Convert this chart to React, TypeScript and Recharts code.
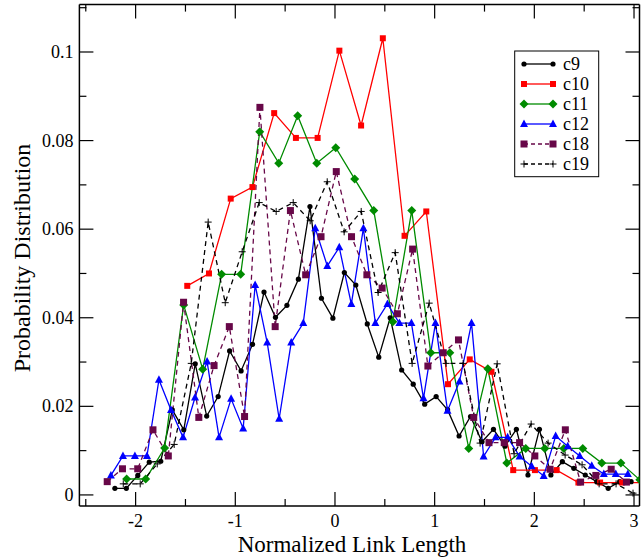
import React from "react";
import { LineChart, Line, XAxis, YAxis } from "recharts";

// c9: black circles, solid
const C9_X = [
  -2.208, -2.093, -1.978, -1.863, -1.748, -1.632, -1.517, -1.402, -1.287, -1.172,
  -1.057, -0.942, -0.827, -0.712, -0.597, -0.482, -0.367, -0.251, -0.136, -0.021,
  0.094, 0.209, 0.324, 0.439, 0.554, 0.669, 0.785, 0.9, 1.015, 1.13,
  1.245, 1.36, 1.475, 1.59, 1.705, 1.82, 1.936, 2.051, 2.166, 2.281,
  2.396, 2.511, 2.626, 2.741, 2.856, 2.971,
];
const C9_Y = [
  0.0015, 0.0015, 0.0044, 0.0074, 0.0076, 0.0192, 0.0147, 0.0296, 0.0178, 0.0222,
  0.0325, 0.028, 0.034, 0.0458, 0.0401, 0.0428, 0.0487, 0.0651, 0.0444, 0.0399,
  0.0502, 0.0474, 0.0386, 0.0311, 0.04, 0.0282, 0.025, 0.0205, 0.0222, 0.0192,
  0.0133, 0.0177, 0.012, 0.0148, 0.011, 0.0148, 0.0045, 0.0148, 0.0045, 0.0075,
  0.006, 0.0045, 0.003, 0.0015, 0.003, 0.003,
];

// c10: red squares, solid
const C10_X = [
  -1.482, -1.264, -1.046, -0.828, -0.61, -0.392, -0.174, 0.044, 0.262, 0.48,
  0.698, 0.916, 1.134, 1.352, 1.57, 1.788, 2.006, 2.224, 2.442, 2.66,
  2.878, 3.096,
];
const C10_Y = [
  0.0472, 0.05, 0.0669, 0.0695, 0.0862, 0.0806, 0.0806, 0.1003, 0.0834, 0.1031,
  0.0585, 0.064, 0.025, 0.0306, 0.0278, 0.0056, 0.0056, 0.0056, 0.0028, 0.0028,
  0.0028, 0.0028,
];

// c11: green diamonds, solid
const C11_X = [
  -2.09, -1.899, -1.709, -1.518, -1.327, -1.137, -0.946, -0.755, -0.564, -0.374,
  -0.183, 0.008, 0.198, 0.389, 0.58, 0.77, 0.961, 1.152, 1.342, 1.533,
  1.724, 1.914, 2.105, 2.296, 2.486, 2.677, 2.868, 3.058,
];
const C11_Y = [
  0.0036, 0.0036, 0.0106, 0.0429, 0.0284, 0.0498, 0.0498, 0.082, 0.0749, 0.0856,
  0.0749, 0.0784, 0.0713, 0.0642, 0.0391, 0.0642, 0.0321, 0.0321, 0.0105, 0.0285,
  0.0072, 0.0105, 0.0105, 0.0105, 0.0105, 0.0072, 0.0072, 0.0034,
];

// c12: blue triangles, solid
const C12_X = [
  -2.248, -2.127, -2.007, -1.886, -1.766, -1.645, -1.524, -1.404, -1.283, -1.163,
  -1.042, -0.921, -0.801, -0.68, -0.56, -0.439, -0.318, -0.198, -0.077, 0.043,
  0.164, 0.285, 0.405, 0.526, 0.646, 0.767, 0.888, 1.008, 1.129, 1.249,
  1.37, 1.491, 1.611, 1.732, 1.852, 1.973, 2.094, 2.214, 2.335, 2.455,
  2.576, 2.697, 2.817, 2.938,
];
const C12_Y = [
  0.0044, 0.0088, 0.0088, 0.0088, 0.026, 0.0192, 0.013, 0.022, 0.0301, 0.013,
  0.0217, 0.015, 0.0474, 0.0344, 0.0172, 0.0344, 0.0388, 0.0602, 0.0517, 0.0559,
  0.0431, 0.0602, 0.0388, 0.0431, 0.0388, 0.0388, 0.0218, 0.0388, 0.019, 0.0256,
  0.0388, 0.0087, 0.013, 0.013, 0.0087, 0.0065, 0.0043, 0.0133, 0.011, 0.0088,
  0.0066, 0.0047, 0.0047, 0.0047,
];

// c18: maroon squares, dashed
const C18_X = [
  -2.285, -2.132, -1.979, -1.826, -1.672, -1.519, -1.366, -1.213, -1.06, -0.907,
  -0.753, -0.6, -0.447, -0.294, -0.14, 0.013, 0.166, 0.32, 0.473, 0.626,
  0.779, 0.932, 1.086, 1.239, 1.392, 1.545, 1.698, 1.852, 2.005, 2.158,
  2.311, 2.464, 2.617, 2.771, 2.924,
];
const C18_Y = [
  0.003, 0.0059, 0.0059, 0.0147, 0.0088, 0.0435, 0.0175, 0.0292, 0.038, 0.0177,
  0.0875, 0.038, 0.0642, 0.0497, 0.0583, 0.073, 0.0583, 0.0497, 0.0467, 0.0409,
  0.0555, 0.0291, 0.0321, 0.035, 0.0175, 0.0118, 0.0118, 0.0118, 0.0088, 0.0058,
  0.0147, 0.0029, 0.0044, 0.0058, 0.0029,
];

// c19: black plus, dashed
const C19_X = [
  -2.124, -1.954, -1.783, -1.613, -1.442, -1.272, -1.101, -0.931, -0.76, -0.59,
  -0.419, -0.249, -0.078, 0.092, 0.263, 0.433, 0.604, 0.774, 0.945, 1.115,
  1.286, 1.456, 1.627, 1.797, 1.968, 2.138, 2.309, 2.479, 2.65, 2.82,
  2.99,
];
const C19_Y = [
  0.0025, 0.0025, 0.007, 0.0114, 0.0297, 0.0616, 0.0434, 0.0549, 0.066, 0.064,
  0.066, 0.0619, 0.0707, 0.0594, 0.064, 0.0457, 0.0547, 0.0297, 0.0433, 0.0297,
  0.0297, 0.0117, 0.0296, 0.0093, 0.016, 0.0117, 0.009, 0.0068, 0.0025, 0.0025,
  0.0004,
];

const X_TICKS = [-2.5, -2, -1.5, -1, -0.5, 0, 0.5, 1, 1.5, 2, 2.5, 3];
const Y_TICKS = [0, 0.01, 0.02, 0.03, 0.04, 0.05, 0.06, 0.07, 0.08, 0.09, 0.1, 0.11];

const FONT = "'Liberation Serif', 'Times New Roman', 'DejaVu Serif', serif";
const TXT = { fontFamily: FONT };

const toPoints = (xs: number[], ys: number[]) => xs.map((x, i) => ({ x, y: ys[i] }));

type MarkerKind = "circle" | "square" | "bigsquare" | "diamond" | "triangle" | "plus";

const SERIES = [
  { name: "c9", data: toPoints(C9_X, C9_Y), color: "#000000", dash: undefined, marker: "circle" as MarkerKind },
  { name: "c10", data: toPoints(C10_X, C10_Y), color: "#ff0000", dash: undefined, marker: "square" as MarkerKind },
  { name: "c11", data: toPoints(C11_X, C11_Y), color: "#008b00", dash: undefined, marker: "diamond" as MarkerKind },
  { name: "c12", data: toPoints(C12_X, C12_Y), color: "#0000ff", dash: undefined, marker: "triangle" as MarkerKind },
  { name: "c18", data: toPoints(C18_X, C18_Y), color: "#670748", dash: "5 4", marker: "bigsquare" as MarkerKind },
  { name: "c19", data: toPoints(C19_X, C19_Y), color: "#000000", dash: "5 4", marker: "plus" as MarkerKind },
];

function Marker({ kind, cx, cy, color }: { kind: MarkerKind; cx: number; cy: number; color: string }) {
  if (cx == null || cy == null || isNaN(cx) || isNaN(cy)) return null;
  switch (kind) {
    case "circle":
      return <circle cx={cx} cy={cy} r={2.6} fill={color} />;
    case "square":
      return <rect x={cx - 3} y={cy - 3} width={6} height={6} fill={color} />;
    case "bigsquare":
      return <rect x={cx - 3.5} y={cy - 3.5} width={7} height={7} fill={color} />;
    case "diamond":
      return (
        <polygon
          points={`${cx},${cy - 4.5} ${cx + 4.5},${cy} ${cx},${cy + 4.5} ${cx - 4.5},${cy}`}
          fill={color}
        />
      );
    case "triangle":
      return (
        <polygon points={`${cx},${cy - 4.5} ${cx + 4},${cy + 3} ${cx - 4},${cy + 3}`} fill={color} />
      );
    case "plus":
      return (
        <g stroke={color} strokeWidth={1}>
          <line x1={cx - 3.5} y1={cy} x2={cx + 3.5} y2={cy} />
          <line x1={cx} y1={cy - 3.5} x2={cx} y2={cy + 3.5} />
        </g>
      );
  }
  return null;
}

const isMajorX = (v: number) => Math.abs(v - Math.round(v)) < 1e-9;
const isMajorY = (v: number) => Math.round(v * 100) % 2 === 0;

function BottomTick(props: any) {
  const { x, y, payload } = props;
  const v = payload.value;
  const major = isMajorX(v);
  return (
    <g>
      <line x1={x} y1={y} x2={x} y2={y - (major ? 14 : 7)} stroke="#000" strokeWidth={1.2} />
      {major && (
        <text x={x} y={y + 21} textAnchor="middle" style={TXT} fontSize={18} fill="#000">
          {String(v)}
        </text>
      )}
    </g>
  );
}

function TopTick(props: any) {
  const { x, y, payload } = props;
  const major = isMajorX(payload.value);
  return <line x1={x} y1={y} x2={x} y2={y + (major ? 14 : 7)} stroke="#000" strokeWidth={1.2} />;
}

function LeftTick(props: any) {
  const { x, y, payload } = props;
  const v = payload.value;
  const major = isMajorY(v) && v <= 0.1;
  const label = v === 0 ? "0" : Math.abs(v - 0.1) < 1e-9 ? "0.1" : v.toFixed(2);
  return (
    <g>
      <line x1={x} y1={y} x2={x + (isMajorY(v) ? 14 : 7)} y2={y} stroke="#000" strokeWidth={1.2} />
      {major && (
        <text x={x - 6} y={y + 6} textAnchor="end" style={TXT} fontSize={18} fill="#000">
          {label}
        </text>
      )}
    </g>
  );
}

function RightTick(props: any) {
  const { x, y, payload } = props;
  return (
    <line x1={x} y1={y} x2={x - (isMajorY(payload.value) ? 14 : 7)} y2={y} stroke="#000" strokeWidth={1.2} />
  );
}

const X_DOMAIN: [number, number] = [-2.564, 3.055];
const Y_DOMAIN: [number, number] = [-0.0025, 0.1107];
const AXIS_LINE = { stroke: "#000", strokeWidth: 1.5 };

export default function App() {
  return (
    <div style={{ position: "absolute", left: 0, top: 0, width: 641, height: 560, background: "#fff" }}>
      <LineChart width={641} height={560} margin={{ top: 3.6, right: 0.5, bottom: 53, left: 78.4 }}>
        <XAxis
          xAxisId={0}
          type="number"
          dataKey="x"
          domain={X_DOMAIN}
          allowDataOverflow
          ticks={X_TICKS}
          interval={0}
          height={1}
          tickSize={0}
          tickMargin={0}
          tickLine={false}
          axisLine={AXIS_LINE}
          tick={(p: any) => <BottomTick {...p} />}
        />
        <XAxis
          xAxisId="top"
          orientation="top"
          type="number"
          dataKey="x"
          domain={X_DOMAIN}
          allowDataOverflow
          ticks={X_TICKS}
          interval={0}
          height={1}
          tickSize={0}
          tickMargin={0}
          tickLine={false}
          axisLine={AXIS_LINE}
          tick={(p: any) => <TopTick {...p} />}
        />
        <YAxis
          yAxisId={0}
          type="number"
          domain={Y_DOMAIN}
          allowDataOverflow
          ticks={Y_TICKS}
          interval={0}
          width={1}
          tickSize={0}
          tickMargin={0}
          tickLine={false}
          axisLine={AXIS_LINE}
          tick={(p: any) => <LeftTick {...p} />}
        />
        <YAxis
          yAxisId="right"
          orientation="right"
          type="number"
          domain={Y_DOMAIN}
          allowDataOverflow
          ticks={Y_TICKS}
          interval={0}
          width={1}
          tickSize={0}
          tickMargin={0}
          tickLine={false}
          axisLine={AXIS_LINE}
          tick={(p: any) => <RightTick {...p} />}
        />
        {/* invisible carrier so the mirrored top/right axes get drawn */}
        <Line
          data={SERIES[0].data}
          dataKey="y"
          xAxisId="top"
          yAxisId="right"
          stroke="none"
          dot={false}
          activeDot={false}
          isAnimationActive={false}
        />
        {SERIES.map((s) => (
          <Line
            key={s.name}
            data={s.data}
            dataKey="y"
            xAxisId={0}
            yAxisId={0}
            type="linear"
            stroke={s.color}
            strokeWidth={1.3}
            strokeDasharray={s.dash}
            isAnimationActive={false}
            dot={(p: any) => <Marker key={`${s.name}-${p.index}`} kind={s.marker} cx={p.cx} cy={p.cy} color={s.color} />}
            activeDot={false}
          />
        ))}
      </LineChart>
      <svg
        width={641}
        height={560}
        style={{ position: "absolute", left: 0, top: 0, pointerEvents: "none" }}
      >
        <text
          transform="translate(30,258) rotate(-90)"
          textAnchor="middle"
          style={TXT}
          fontSize={24}
          fill="#000"
        >
          Probability Distribution
        </text>
        <text x={352} y={552} textAnchor="middle" style={TXT} fontSize={23} fill="#000">
          Normalized Link Length
        </text>
        <rect x={514.7} y={51} width={84} height={125.7} fill="#fff" stroke="#000" strokeWidth={1} />
        {SERIES.map((s, i) => {
          const y = 64 + i * 20;
          return (
            <g key={s.name}>
              <line x1={524} y1={y} x2={553} y2={y} stroke={s.color} strokeWidth={1.3} strokeDasharray={s.dash ? "4 3" : undefined} />
              <Marker kind={s.marker} cx={524} cy={y} color={s.color} />
              <Marker kind={s.marker} cx={553} cy={y} color={s.color} />
              <text x={563} y={y + 6} style={TXT} fontSize={18} fill="#000">
                {s.name}
              </text>
            </g>
          );
        })}
      </svg>
    </div>
  );
}
